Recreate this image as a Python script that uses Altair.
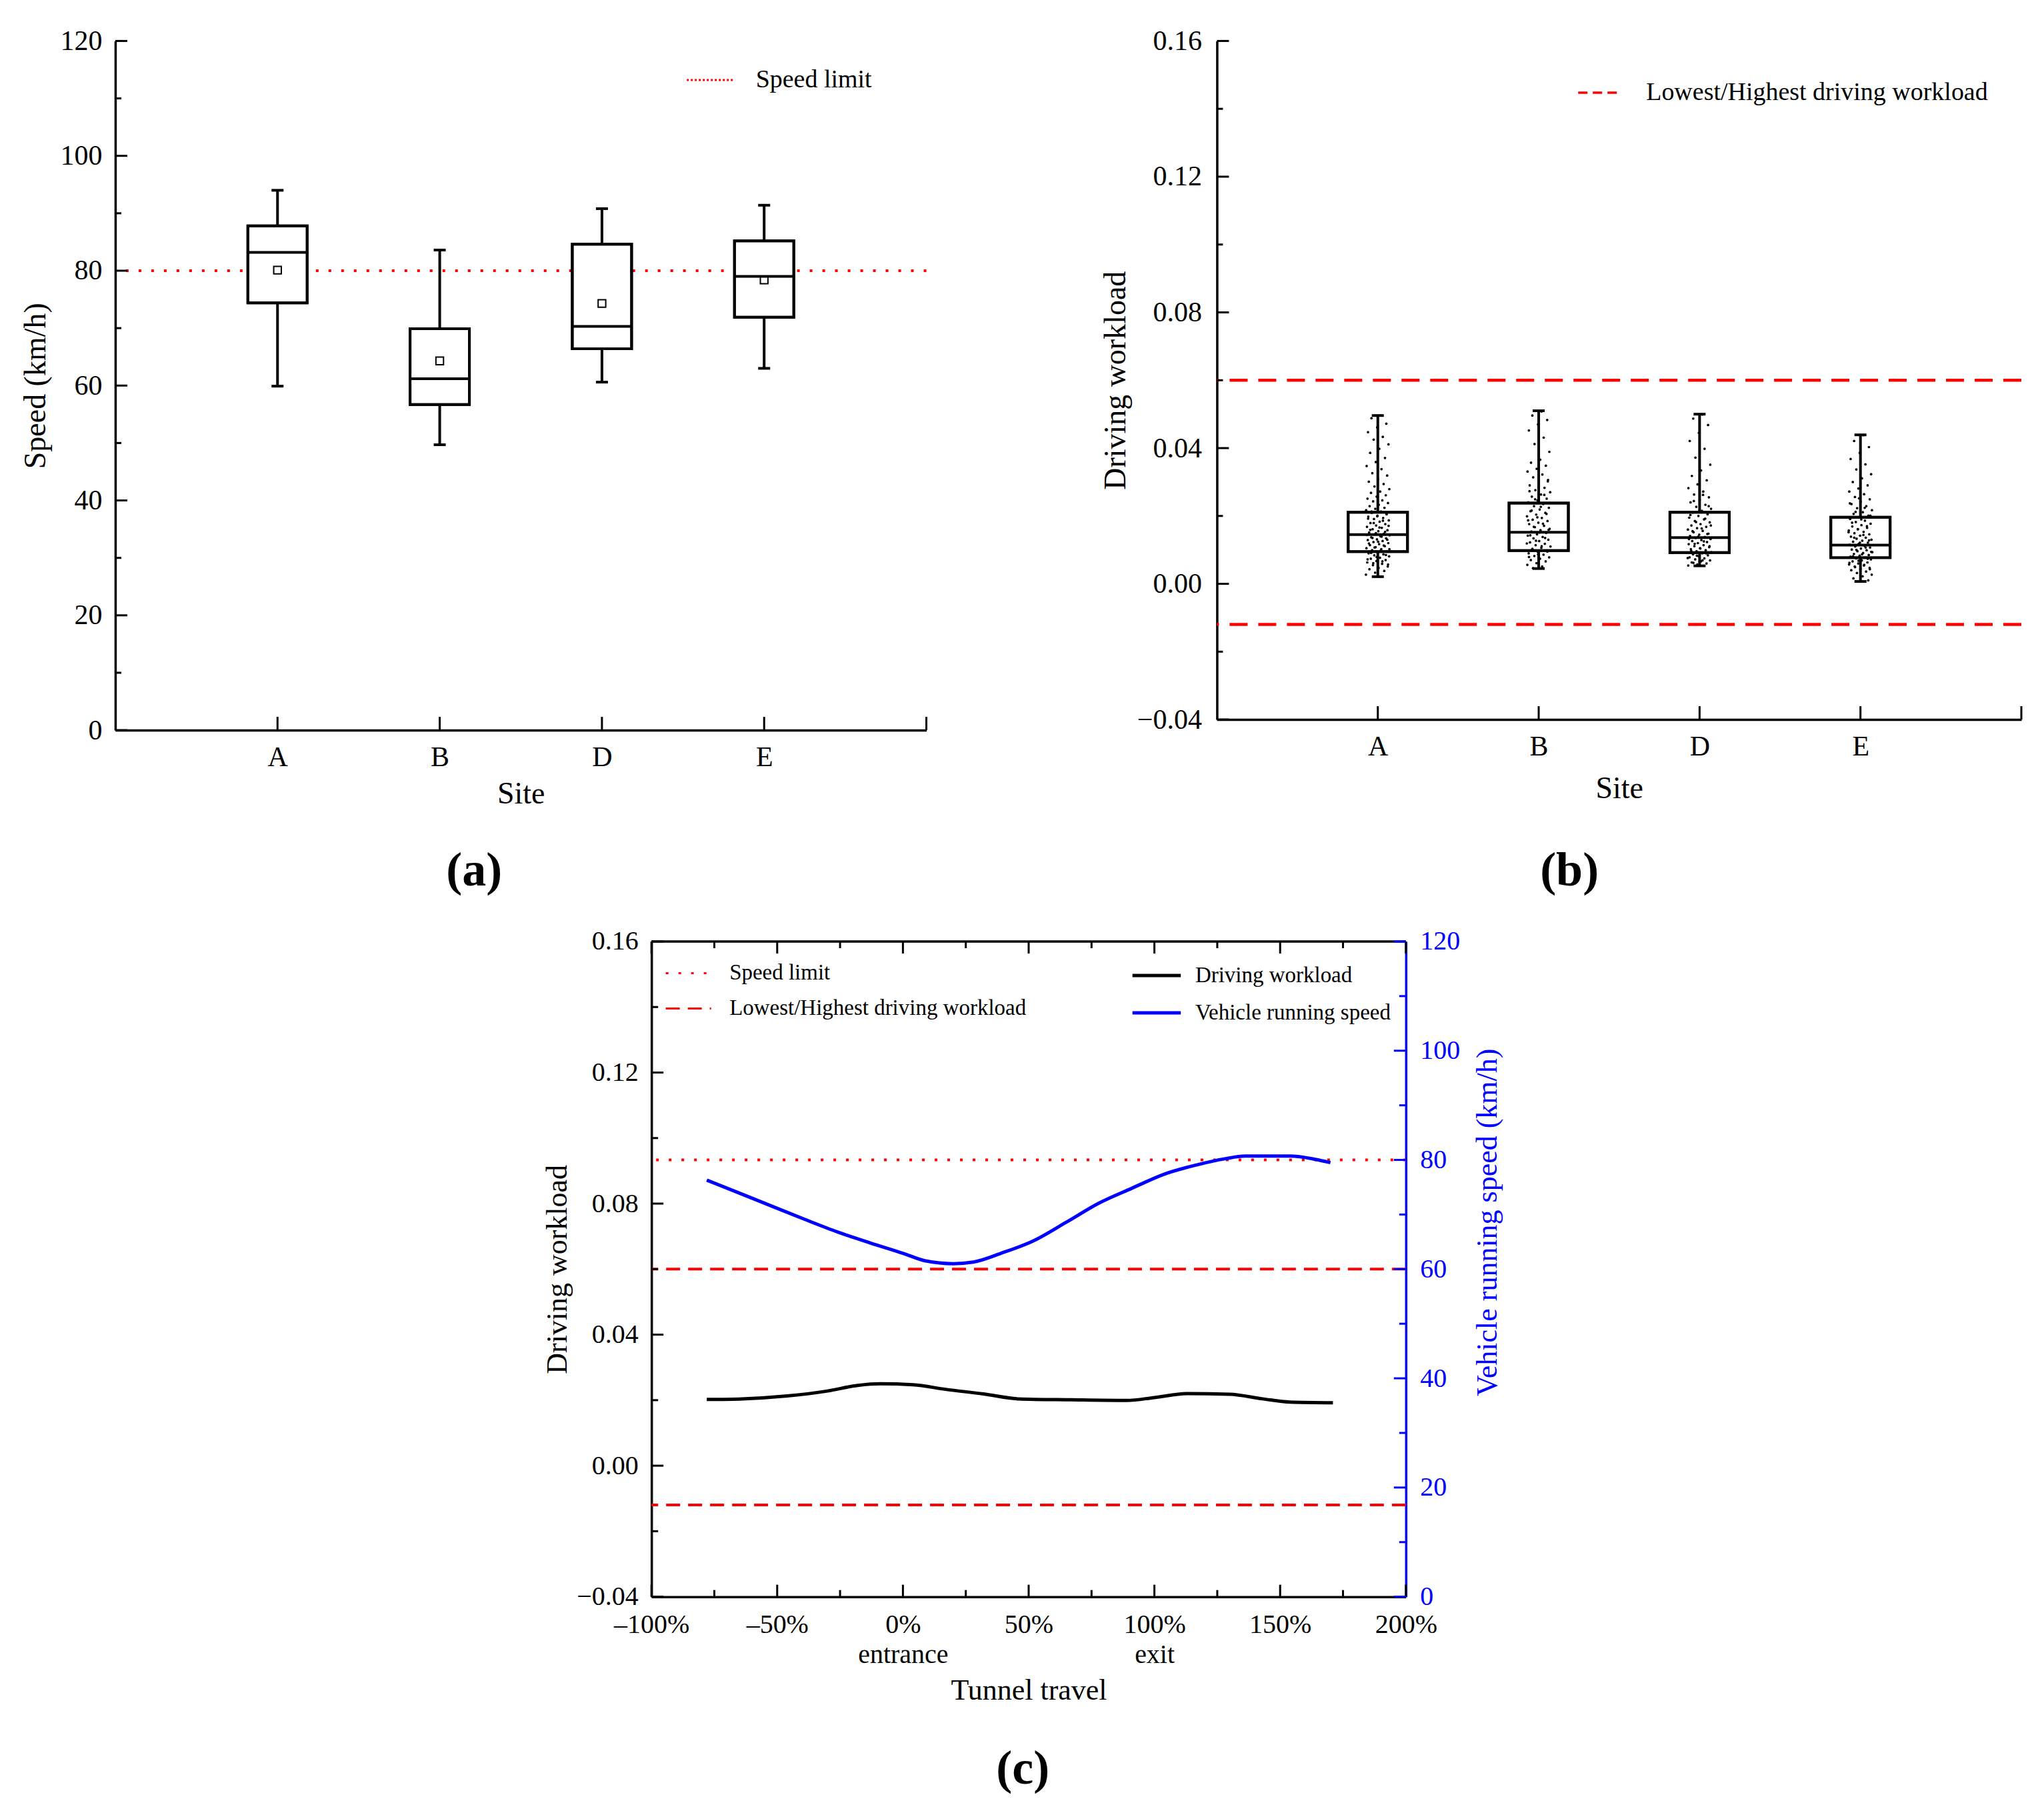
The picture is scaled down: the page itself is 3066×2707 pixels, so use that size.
import altair as alt
import pandas as pd

FONT = "Liberation Serif"

# ---------------- data ----------------
sites = ["A", "B", "D", "E"]

# (a) vehicle speed box plots (km/h)
speed_whisker_low = [59.9, 49.7, 60.6, 63.0]
speed_q1 = [74.4, 56.7, 66.4, 71.9]
speed_median = [83.2, 61.2, 70.3, 79.0]
speed_q3 = [87.8, 69.9, 84.6, 85.2]
speed_whisker_high = [94.0, 83.6, 90.8, 91.4]
speed_mean = [80.1, 64.3, 74.3, 78.4]
speed_limit = [80]
speed_ticks_major = [0, 20, 40, 60, 80, 100, 120]
speed_ticks_minor = [10, 30, 50, 70, 90, 110]

# (b) driving workload box plots
wl_whisker_low = [0.0021, 0.0045, 0.0053, 0.0007]
wl_q1 = [0.0095, 0.0098, 0.0092, 0.0077]
wl_median = [0.0145, 0.0152, 0.0136, 0.0114]
wl_q3 = [0.0211, 0.0238, 0.0211, 0.0196]
wl_whisker_high = [0.0496, 0.0510, 0.0500, 0.0439]
workload_bounds = [0.06, -0.012]
wl_ticks_major = [-0.04, 0.0, 0.04, 0.08, 0.12, 0.16]
wl_ticks_minor = [-0.02, 0.02, 0.06, 0.10, 0.14]

points_A = [0.0496, 0.0488, 0.0472, 0.0461, 0.0447, 0.0433, 0.0425, 0.0411, 0.0398, 0.0386,
            0.0371, 0.0359, 0.0347, 0.0338, 0.0326, 0.0319, 0.0308, 0.0301, 0.0294, 0.0287,
            0.0279, 0.0272, 0.0268, 0.0261, 0.0257, 0.0251, 0.0246, 0.0243, 0.0238, 0.0233,
            0.0229, 0.0224, 0.0221, 0.0217, 0.0213, 0.0209, 0.0205, 0.0201, 0.0198, 0.0194,
            0.0191, 0.0187, 0.0183, 0.0179, 0.0176, 0.0172, 0.0168, 0.0165, 0.0161, 0.0158,
            0.0155, 0.0151, 0.0148, 0.0146, 0.0143, 0.0140, 0.0137, 0.0134, 0.0131, 0.0129,
            0.0126, 0.0123, 0.0120, 0.0117, 0.0114, 0.0111, 0.0108, 0.0105, 0.0102, 0.0099,
            0.0096, 0.0093, 0.0090, 0.0087, 0.0084, 0.0081, 0.0077, 0.0074, 0.0070, 0.0067,
            0.0063, 0.0059, 0.0055, 0.0051, 0.0047, 0.0043, 0.0038, 0.0033, 0.0027, 0.0021,
            0.0213, 0.0206, 0.0199, 0.0192, 0.0186, 0.0179, 0.0171, 0.0166, 0.0159, 0.0153,
            0.0149, 0.0144, 0.0139, 0.0135, 0.0130, 0.0124, 0.0119, 0.0113, 0.0107, 0.0102,
            0.0097, 0.0091, 0.0085, 0.0079, 0.0072, 0.0066, 0.0061, 0.0057]
points_B = [0.0508, 0.0496, 0.0483, 0.0470, 0.0452, 0.0431, 0.0412, 0.0389, 0.0366, 0.0357,
            0.0348, 0.0339, 0.0331, 0.0322, 0.0314, 0.0306, 0.0298, 0.0290, 0.0283, 0.0276,
            0.0270, 0.0263, 0.0257, 0.0251, 0.0246, 0.0240, 0.0235, 0.0229, 0.0224, 0.0219,
            0.0214, 0.0209, 0.0204, 0.0199, 0.0194, 0.0189, 0.0185, 0.0180, 0.0176, 0.0171,
            0.0167, 0.0162, 0.0158, 0.0154, 0.0150, 0.0146, 0.0142, 0.0138, 0.0134, 0.0130,
            0.0126, 0.0122, 0.0118, 0.0114, 0.0110, 0.0106, 0.0102, 0.0098, 0.0094, 0.0090,
            0.0086, 0.0082, 0.0078, 0.0074, 0.0070, 0.0066, 0.0061, 0.0056, 0.0051, 0.0046,
            0.0302, 0.0287, 0.0273, 0.0262, 0.0249, 0.0238, 0.0227, 0.0216, 0.0206, 0.0196,
            0.0187, 0.0177, 0.0168, 0.0159, 0.0151, 0.0143, 0.0135, 0.0127, 0.0119, 0.0111,
            0.0103, 0.0095, 0.0087, 0.0079]
points_D = [0.0499, 0.0487, 0.0468, 0.0445, 0.0421, 0.0398, 0.0372, 0.0351, 0.0334, 0.0318,
            0.0305, 0.0293, 0.0282, 0.0272, 0.0263, 0.0255, 0.0247, 0.0240, 0.0233, 0.0227,
            0.0221, 0.0215, 0.0210, 0.0205, 0.0200, 0.0195, 0.0190, 0.0185, 0.0181, 0.0176,
            0.0172, 0.0168, 0.0164, 0.0160, 0.0156, 0.0152, 0.0148, 0.0145, 0.0141, 0.0138,
            0.0135, 0.0132, 0.0129, 0.0126, 0.0123, 0.0120, 0.0117, 0.0114, 0.0111, 0.0108,
            0.0105, 0.0102, 0.0099, 0.0096, 0.0093, 0.0090, 0.0087, 0.0084, 0.0081, 0.0078,
            0.0075, 0.0072, 0.0069, 0.0066, 0.0063, 0.0060, 0.0057, 0.0054,
            0.0262, 0.0244, 0.0229, 0.0216, 0.0203, 0.0192, 0.0182, 0.0172, 0.0163, 0.0155,
            0.0147, 0.0139, 0.0132, 0.0125, 0.0118, 0.0111, 0.0104, 0.0097, 0.0090, 0.0083,
            0.0076, 0.0069, 0.0062]
points_E = [0.0438, 0.0421, 0.0403, 0.0386, 0.0368, 0.0352, 0.0337, 0.0323, 0.0311, 0.0300,
            0.0290, 0.0281, 0.0272, 0.0264, 0.0256, 0.0249, 0.0242, 0.0235, 0.0229, 0.0223,
            0.0217, 0.0211, 0.0206, 0.0201, 0.0196, 0.0191, 0.0186, 0.0182, 0.0177, 0.0173,
            0.0169, 0.0165, 0.0161, 0.0157, 0.0153, 0.0149, 0.0146, 0.0142, 0.0139, 0.0136,
            0.0133, 0.0130, 0.0127, 0.0124, 0.0121, 0.0118, 0.0115, 0.0112, 0.0110, 0.0107,
            0.0104, 0.0101, 0.0099, 0.0096, 0.0093, 0.0091, 0.0088, 0.0085, 0.0083, 0.0080,
            0.0077, 0.0075, 0.0072, 0.0069, 0.0066, 0.0063, 0.0060, 0.0057, 0.0054, 0.0051,
            0.0047, 0.0044, 0.0040, 0.0036, 0.0032, 0.0027, 0.0022, 0.0016, 0.0010,
            0.0252, 0.0237, 0.0224, 0.0212, 0.0201, 0.0190, 0.0180, 0.0170, 0.0161, 0.0152,
            0.0144, 0.0136, 0.0128, 0.0121, 0.0114, 0.0107, 0.0100, 0.0094, 0.0087, 0.0081,
            0.0074, 0.0068, 0.0062, 0.0056, 0.0049, 0.0043]

# (c) profile along the tunnel
travel_speed = [-78, -66, -52, -39, -26, -13, 0, 9, 20, 28, 39, 52, 65, 78, 91, 104, 117, 128,
                136, 154, 164, 170]
speed_profile = [76.3, 74.1, 71.5, 69.1, 66.8, 64.8, 62.9, 61.5, 61.0, 61.3, 62.9, 65.2, 68.6,
                 72.1, 74.8, 77.4, 79.1, 80.2, 80.7, 80.7, 80.1, 79.5]
travel_wl = [-78, -64, -46, -30, -18, -9, 4, 17, 32, 46, 67, 89, 100, 113, 130, 143, 154, 171]
wl_profile = [0.0202, 0.0204, 0.0213, 0.0228, 0.0245, 0.0250, 0.0247, 0.0233, 0.0219, 0.0204,
              0.0201, 0.0199, 0.0208, 0.0220, 0.0218, 0.0204, 0.0194, 0.0192]
travel_ticks_major = [-100, -50, 0, 50, 100, 150, 200]
travel_ticks_minor = [-75, -25, 25, 75, 125, 175]

LIMIT_LABEL = "Speed limit"
BOUND_LABEL = "Lowest/Highest driving workload"

LW = 4  # main line width of boxes / axes

# ---------------- helpers ----------------
def panel_title(t, offset):
    return alt.TitleParams(text=t, orient="bottom", anchor="middle", frame="bounds",
                           fontSize=72, fontWeight="bold", font=FONT, color="black", offset=offset)


def box_panel(df_box, y_enc, W, H, box_w, extra_layers, title, title_offset, site_title_pad,
              with_mean, points=None, right_room=0):
    xs = alt.X("site:N", scale=alt.Scale(type="point", domain=sites, padding=1),
               axis=alt.Axis(title="Site", labelAngle=0, labelPadding=20,
                             titlePadding=site_title_pad))
    base = alt.Chart(df_box)
    whisk = base.mark_rule(strokeWidth=LW, color="black").encode(x=xs, y=y_enc("lo:Q"), y2="hi:Q")
    box_fill = base.mark_bar(size=box_w, fill="white", stroke="black", strokeWidth=LW).encode(
        x=xs, y=y_enc("q1:Q"), y2="q3:Q")
    box_line = base.mark_bar(size=box_w, fillOpacity=0, stroke="black", strokeWidth=LW).encode(
        x=xs, y=y_enc("q1:Q"), y2="q3:Q")
    med = base.mark_tick(size=box_w, thickness=LW, color="black", opacity=1).encode(
        x=xs, y=y_enc("med:Q"))
    cap_lo = base.mark_tick(size=18, thickness=LW, color="black", opacity=1).encode(
        x=xs, y=y_enc("lo:Q"))
    cap_hi = base.mark_tick(size=18, thickness=LW, color="black", opacity=1).encode(
        x=xs, y=y_enc("hi:Q"))
    layers = list(extra_layers) + [whisk, box_fill]
    if points is not None:
        pts = alt.Chart(points).transform_window(
            i="row_number()", groupby=["site"]
        ).transform_calculate(
            jit="((datum.i * 0.618034) % 1) * 2 - 1"
        ).mark_circle(size=14, color="black", opacity=1).encode(
            x=xs,
            xOffset=alt.XOffset("jit:Q", scale=alt.Scale(domain=[-1, 1], range=[-18, 18])),
            y=y_enc("v:Q"))
        layers.append(pts)
    layers += [box_line, med, cap_lo, cap_hi]
    if with_mean:
        layers.append(base.mark_square(size=130, filled=False, stroke="black", strokeWidth=2,
                                       opacity=1).encode(x=xs, y=y_enc("mean:Q")))
    # inward axis ticks
    site_df = pd.DataFrame({"site": sites})
    layers.append(alt.Chart(site_df).mark_rule(strokeWidth=3, color="black").encode(
        x=xs, y=alt.value(H), y2=alt.value(H - 20)))
    layers.append(alt.Chart(site_df.head(1)).mark_rule(strokeWidth=3, color="black").encode(
        x=alt.value(W), y=alt.value(H), y2=alt.value(H - 20)))
    if right_room:
        # empty margin to the right of the panel (keeps panel (c) centred like the original)
        layers.append(alt.Chart(site_df.head(1)).mark_rule(strokeWidth=1, color="white",
                                                            opacity=0).encode(
            x=alt.value(W), x2=alt.value(W + right_room), y=alt.value(H)))
    return alt.layer(*layers).properties(width=W, height=H, title=panel_title(title, title_offset))


# ---------------- panel (a) ----------------
W_A, H_A = 1217, 1034
ax_speed_a = alt.Axis(title="Speed  (km/h)", values=speed_ticks_major, format="d",
                      labelPadding=20, titlePadding=12)
def y_a(f):
    return alt.Y(f, scale=alt.Scale(domain=[0, 120], nice=False, zero=False), axis=ax_speed_a)

box_a = pd.DataFrame({"site": sites, "lo": speed_whisker_low, "q1": speed_q1, "med": speed_median,
                      "q3": speed_q3, "hi": speed_whisker_high, "mean": speed_mean})
limit_a = alt.Chart(pd.DataFrame({"v": speed_limit, "label": [LIMIT_LABEL]})).mark_rule(
    strokeDash=[4, 15], strokeWidth=4).encode(
    y=y_a("v:Q"),
    color=alt.Color("label:N", scale=alt.Scale(domain=[LIMIT_LABEL], range=["red"]),
                    legend=alt.Legend(title=None, orient="none", legendX=856, legendY=22,
                                      symbolType="stroke", symbolSize=4900, symbolStrokeWidth=3,
                                      symbolDash=[3, 3], labelFontSize=38, labelOffset=32,
                                      labelLimit=1000)))
yt_a_major = alt.Chart(pd.DataFrame({"v": speed_ticks_major})).mark_rule(
    strokeWidth=3, color="black").encode(y=y_a("v:Q"), x=alt.value(0), x2=alt.value(18))
yt_a_minor = alt.Chart(pd.DataFrame({"v": speed_ticks_minor})).mark_rule(
    strokeWidth=3, color="black").encode(y=y_a("v:Q"), x=alt.value(0), x2=alt.value(9))
panel_a = box_panel(box_a, y_a, W_A, H_A, 89, [limit_a, yt_a_major, yt_a_minor], "(a)", 58, 12,
                    True)

# ---------------- panel (b) ----------------
W_B, H_B = 1207, 1018
ax_wl_b = alt.Axis(title="Driving workload", values=wl_ticks_major, format=".2f",
                   labelPadding=23, titlePadding=8)
def y_b(f):
    return alt.Y(f, scale=alt.Scale(domain=[-0.04, 0.16], nice=False, zero=False), axis=ax_wl_b)

box_b = pd.DataFrame({"site": sites, "lo": wl_whisker_low, "q1": wl_q1, "med": wl_median,
                      "q3": wl_q3, "hi": wl_whisker_high})
pts_b = pd.DataFrame({
    "site": ["A"] * len(points_A) + ["B"] * len(points_B) + ["D"] * len(points_D) + ["E"] * len(points_E),
    "v": points_A + points_B + points_D + points_E})
bounds_b = alt.Chart(pd.DataFrame({"v": workload_bounds, "label": [BOUND_LABEL] * 2})).mark_rule(
    strokeDash=[27, 16], strokeWidth=4.5).encode(
    y=y_b("v:Q"),
    color=alt.Color("label:N", scale=alt.Scale(domain=[BOUND_LABEL], range=["red"]),
                    legend=alt.Legend(title=None, orient="none", legendX=540, legendY=44,
                                      symbolType="stroke", symbolSize=3969, symbolStrokeWidth=3.5,
                                      symbolDash=[14, 8], labelFontSize=38, labelOffset=37,
                                      labelLimit=1000)))
yt_b_major = alt.Chart(pd.DataFrame({"v": wl_ticks_major})).mark_rule(
    strokeWidth=3, color="black").encode(y=y_b("v:Q"), x=alt.value(0), x2=alt.value(18))
yt_b_minor = alt.Chart(pd.DataFrame({"v": wl_ticks_minor})).mark_rule(
    strokeWidth=3, color="black").encode(y=y_b("v:Q"), x=alt.value(0), x2=alt.value(9))
panel_b = box_panel(box_b, y_b, W_B, H_B, 89, [bounds_b, yt_b_major, yt_b_minor], "(b)", 66, 20,
                    False, points=pts_b, right_room=26)

# ---------------- panel (c) ----------------
W_C, H_C = 1132, 983
ax_travel = alt.Axis(
    title="Tunnel travel", values=travel_ticks_major, labelFontSize=40, titleFontSize=44,
    labelExpr=("datum.value == 0 ? ['0%', 'entrance'] : datum.value == 100 ? ['100%', 'exit'] : "
               "(datum.value < 0 ? '\u2013' + (-datum.value) : '' + datum.value) + '%'"),
    labelLineHeight=45, labelFlush=False, labelOverlap=False, labelPadding=22, titlePadding=12)
ax_wl_c = alt.Axis(title="Driving workload", values=wl_ticks_major, format=".2f",
                   labelFontSize=40, titleFontSize=44, labelPadding=20, titlePadding=6)
ax_speed_c = alt.Axis(title="Vehicle running speed  (km/h)", orient="right", values=speed_ticks_major,
                      format="d", labelFontSize=40, titleFontSize=44, labelPadding=21,
                      titlePadding=20, titleAngle=270, titleBaseline="top", titleY=421,
                      domainColor="blue", labelColor="blue", titleColor="blue")

def x_c(f):
    return alt.X(f, scale=alt.Scale(domain=[-100, 200], nice=False, zero=False), axis=ax_travel)
def yl_c(f):
    return alt.Y(f, scale=alt.Scale(domain=[-0.04, 0.16], nice=False, zero=False), axis=ax_wl_c)
def yr_c(f):
    return alt.Y(f, scale=alt.Scale(domain=[0, 120], nice=False, zero=False), axis=ax_speed_c)

dash_enc = alt.StrokeDash(
    "label:N", scale=alt.Scale(domain=[LIMIT_LABEL, BOUND_LABEL], range=[[4, 15], [21, 12]]),
    legend=alt.Legend(title=None, orient="none", legendX=20, legendY=12, symbolType="stroke",
                      symbolSize=4624, symbolStrokeWidth=3, symbolStrokeColor="red",
                      labelFontSize=33, labelOffset=26, rowPadding=-3, labelLimit=1000))
color_enc = alt.Color(
    "series:N", scale=alt.Scale(domain=["Driving workload", "Vehicle running speed"],
                                range=["black", "blue"]),
    legend=alt.Legend(title=None, orient="none", legendX=719, legendY=12, symbolType="stroke",
                      symbolSize=5256, symbolStrokeWidth=5, labelFontSize=33, labelOffset=19,
                      rowPadding=-3, labelLimit=1000))

bounds_c = alt.Chart(pd.DataFrame({"v": workload_bounds, "label": [BOUND_LABEL] * 2})).mark_rule(
    color="red", strokeWidth=4).encode(y=yl_c("v:Q"), strokeDash=dash_enc)
wl_line = alt.Chart(pd.DataFrame({"x": travel_wl, "v": wl_profile,
                                  "series": ["Driving workload"] * len(travel_wl)})).mark_line(
    strokeWidth=5, interpolate="monotone").encode(x=x_c("x:Q"), y=yl_c("v:Q"), color=color_enc)
lt_major = alt.Chart(pd.DataFrame({"v": wl_ticks_major})).mark_rule(
    strokeWidth=3, color="black").encode(y=yl_c("v:Q"), x=alt.value(0), x2=alt.value(18))
lt_minor = alt.Chart(pd.DataFrame({"v": wl_ticks_minor})).mark_rule(
    strokeWidth=3, color="black").encode(y=yl_c("v:Q"), x=alt.value(0), x2=alt.value(10))
bt_major = alt.Chart(pd.DataFrame({"x": travel_ticks_major})).mark_rule(
    strokeWidth=3, color="black").encode(x=x_c("x:Q"), y=alt.value(H_C), y2=alt.value(H_C - 18))
bt_minor = alt.Chart(pd.DataFrame({"x": travel_ticks_minor})).mark_rule(
    strokeWidth=3, color="black").encode(x=x_c("x:Q"), y=alt.value(H_C), y2=alt.value(H_C - 10))
tt_major = alt.Chart(pd.DataFrame({"x": travel_ticks_major})).mark_rule(
    strokeWidth=3, color="black").encode(x=x_c("x:Q"), y=alt.value(0), y2=alt.value(18))
tt_minor = alt.Chart(pd.DataFrame({"x": travel_ticks_minor})).mark_rule(
    strokeWidth=3, color="black").encode(x=x_c("x:Q"), y=alt.value(0), y2=alt.value(10))
top_border = alt.Chart(pd.DataFrame({"x": [0]})).mark_rule(strokeWidth=3.5, color="black").encode(
    x=alt.value(0), x2=alt.value(W_C), y=alt.value(0))

limit_c = alt.Chart(pd.DataFrame({"v": speed_limit, "label": [LIMIT_LABEL]})).mark_rule(
    color="red", strokeWidth=4).encode(y=yr_c("v:Q"), strokeDash=dash_enc)
speed_line = alt.Chart(pd.DataFrame({"x": travel_speed, "v": speed_profile,
                                     "series": ["Vehicle running speed"] * len(travel_speed)})).mark_line(
    strokeWidth=5, interpolate="monotone").encode(x=x_c("x:Q"), y=yr_c("v:Q"), color=color_enc)
rt_major = alt.Chart(pd.DataFrame({"v": speed_ticks_major})).mark_rule(
    strokeWidth=3, color="blue").encode(y=yr_c("v:Q"), x=alt.value(W_C), x2=alt.value(W_C - 18))
rt_minor = alt.Chart(pd.DataFrame({"v": speed_ticks_minor})).mark_rule(
    strokeWidth=3, color="blue").encode(y=yr_c("v:Q"), x=alt.value(W_C), x2=alt.value(W_C - 10))

left_c = alt.layer(bounds_c, wl_line, lt_major, lt_minor, bt_major, bt_minor, tt_major, tt_minor,
                   top_border)
right_c = alt.layer(limit_c, speed_line, rt_major, rt_minor)
panel_c = alt.layer(left_c, right_c).resolve_scale(y="independent").properties(
    width=W_C, height=H_C, title=panel_title("(c)", 60))

# ---------------- assemble ----------------
top_row = alt.hconcat(panel_a, panel_b, spacing=258).resolve_scale(
    color="independent", strokeDash="independent").resolve_legend(
    color="independent", strokeDash="independent")
chart = alt.vconcat(top_row, panel_c, spacing=50, center=True).resolve_scale(
    color="independent", strokeDash="independent").resolve_legend(
    color="independent", strokeDash="independent").properties(
    padding={"left": 23, "top": 32, "right": 0, "bottom": 4}
).configure_view(stroke=None).configure_axis(
    labelFont=FONT, titleFont=FONT, titleFontWeight="normal", labelFontSize=42, titleFontSize=46,
    grid=False, ticks=False, domainColor="black", domainWidth=3.5, labelColor="black",
    titleColor="black"
).configure_legend(labelFont=FONT, labelColor="black", padding=0).configure_title(font=FONT)

chart.save("out.html", embed_options={"renderer": "svg", "actions": False})
